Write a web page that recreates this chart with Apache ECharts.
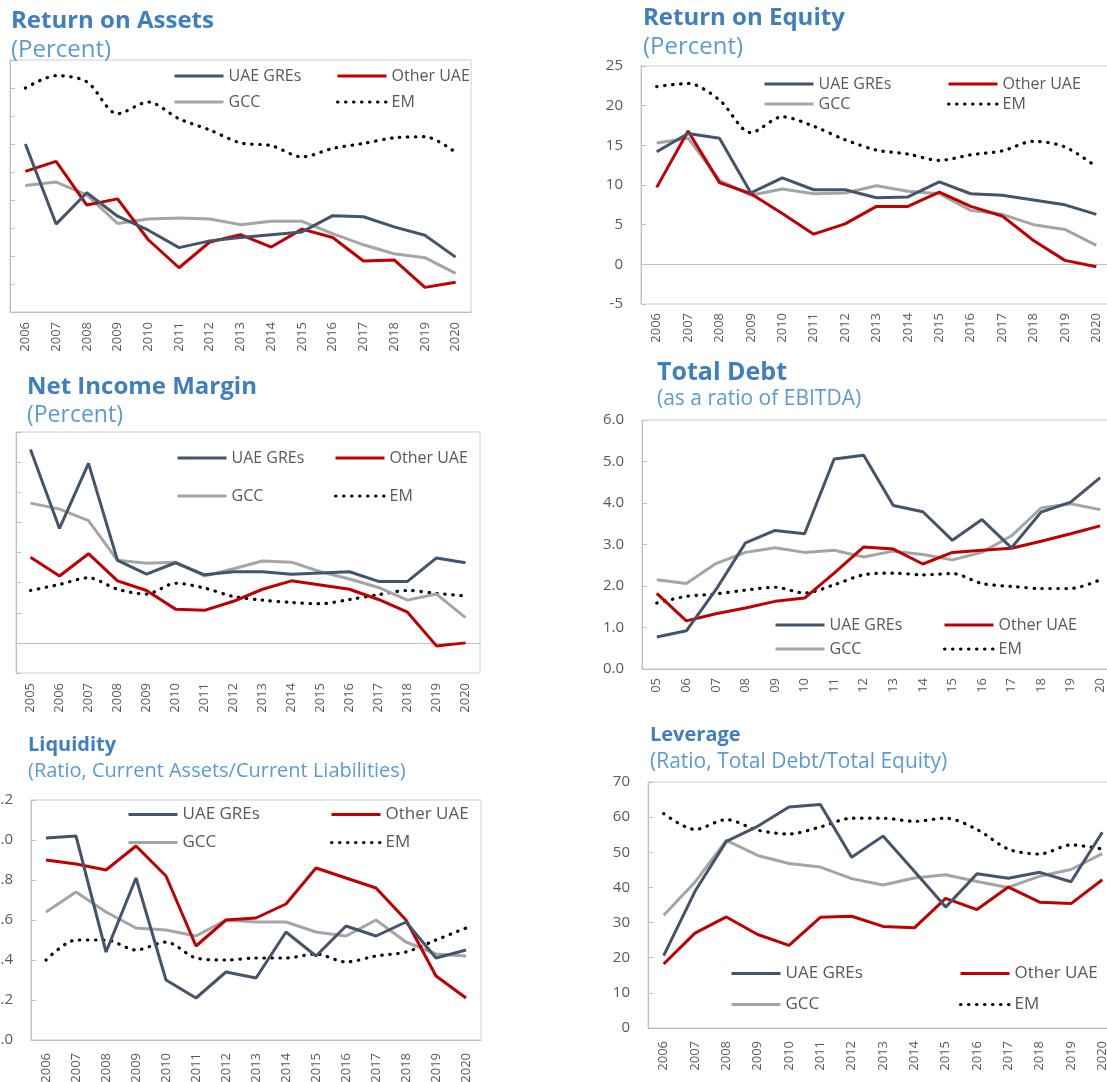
<!DOCTYPE html>
<html>
<head>
<meta charset="utf-8">
<script src="https://cdn.jsdelivr.net/npm/echarts@6/dist/echarts.min.js"></script>
<style>
html, body { margin: 0; padding: 0; background: #fff; }
#main { width: 1107px; height: 1082px; }
</style>
</head>
<body>
<div id="main"></div>
<script>
// categories
var years05 = ['2005','2006','2007','2008','2009','2010','2011','2012','2013','2014','2015','2016','2017','2018','2019','2020'];
var years06 = ['2006','2007','2008','2009','2010','2011','2012','2013','2014','2015','2016','2017','2018','2019','2020'];

// Return on Assets (percent)
var roaGre   = [3.00, 1.57, 2.13, 1.71, 1.46, 1.15, 1.27, 1.33, 1.38, 1.43, 1.72, 1.70, 1.52, 1.37, 0.98];
var roaOther = [2.51, 2.69, 1.91, 2.02, 1.29, 0.79, 1.25, 1.38, 1.16, 1.48, 1.33, 0.91, 0.93, 0.44, 0.53];
var roaGcc   = [2.26, 2.32, 2.09, 1.58, 1.66, 1.68, 1.66, 1.56, 1.62, 1.62, 1.40, 1.20, 1.04, 0.97, 0.69];
var roaEm    = [4.00, 4.22, 4.11, 3.54, 3.75, 3.45, 3.25, 3.02, 2.97, 2.77, 2.92, 3.01, 3.11, 3.13, 2.85];

// Return on Equity (percent)
var roeGre   = [14.2, 16.5, 15.9, 9.0, 10.9, 9.4, 9.4, 8.4, 8.5, 10.4, 8.9, 8.7, 8.1, 7.5, 6.3];
var roeOther = [9.7, 16.8, 10.3, 8.9, 6.4, 3.8, 5.1, 7.3, 7.3, 9.1, 7.3, 6.1, 3.0, 0.5, -0.3];
var roeGcc   = [15.3, 15.9, 10.6, 8.7, 9.5, 8.9, 9.0, 9.9, 9.2, 8.9, 6.8, 6.3, 5.0, 4.4, 2.4];
var roeEm    = [22.4, 22.8, 20.7, 16.6, 18.6, 17.4, 15.7, 14.4, 13.9, 13.1, 13.8, 14.3, 15.5, 14.8, 12.3];

// Net Income Margin (percent)
var nimGre   = [32.1, 19.0, 29.8, 13.7, 11.4, 13.3, 11.3, 11.8, 11.8, 11.4, 11.6, 11.8, 10.2, 10.2, 14.1, 13.3];
var nimOther = [14.2, 11.1, 14.8, 10.3, 8.7, 5.6, 5.4, 6.9, 8.9, 10.3, 9.6, 8.9, 7.2, 5.1, -0.5, 0.0];
var nimGcc   = [23.2, 22.2, 20.3, 13.7, 13.2, 13.4, 11.1, 12.3, 13.6, 13.4, 11.8, 10.6, 9.2, 7.1, 8.1, 4.2];
var nimEm    = [8.7, 9.7, 10.8, 8.9, 8.1, 9.9, 9.1, 7.7, 7.1, 6.7, 6.5, 7.2, 8.0, 8.7, 8.2, 7.8];

// Total Debt (ratio of EBITDA)
var tdGre   = [0.77, 0.92, 1.91, 3.04, 3.34, 3.26, 5.06, 5.15, 3.94, 3.79, 3.10, 3.60, 2.92, 3.78, 4.02, 4.61];
var tdOther = [1.82, 1.16, 1.33, 1.47, 1.63, 1.71, 2.31, 2.94, 2.89, 2.53, 2.81, 2.86, 2.91, 3.08, 3.26, 3.45];
var tdGcc   = [2.15, 2.06, 2.54, 2.81, 2.92, 2.81, 2.86, 2.70, 2.84, 2.76, 2.63, 2.81, 3.21, 3.88, 3.98, 3.84];
var tdEm    = [1.59, 1.75, 1.81, 1.90, 1.97, 1.83, 2.03, 2.27, 2.31, 2.27, 2.30, 2.06, 1.99, 1.94, 1.94, 2.15];

// Liquidity (current assets / current liabilities)
var liqGre   = [1.01, 1.02, 0.44, 0.81, 0.30, 0.21, 0.34, 0.31, 0.54, 0.42, 0.57, 0.52, 0.59, 0.41, 0.45];
var liqOther = [0.90, 0.88, 0.85, 0.97, 0.82, 0.47, 0.60, 0.61, 0.68, 0.86, 0.81, 0.76, 0.60, 0.32, 0.21];
var liqGcc   = [0.64, 0.74, 0.64, 0.56, 0.55, 0.52, 0.60, 0.59, 0.59, 0.54, 0.52, 0.60, 0.49, 0.43, 0.42];
var liqEm    = [0.40, 0.50, 0.50, 0.45, 0.49, 0.41, 0.40, 0.41, 0.41, 0.43, 0.39, 0.42, 0.44, 0.50, 0.56];

// Leverage (total debt / total equity)
var levGre   = [20.6, 38.9, 53.1, 57.4, 62.9, 63.6, 48.6, 54.6, 44.6, 34.4, 43.9, 42.6, 44.3, 41.6, 55.7];
var levOther = [18.2, 27.0, 31.6, 26.6, 23.5, 31.5, 31.8, 28.9, 28.5, 36.9, 33.7, 40.1, 35.8, 35.4, 42.2];
var levGcc   = [32.1, 41.5, 53.4, 49.1, 46.8, 45.8, 42.5, 40.7, 42.7, 43.6, 41.7, 40.0, 43.2, 45.1, 49.6];
var levEm    = [61.0, 56.5, 59.3, 56.3, 55.2, 57.2, 59.7, 59.7, 58.8, 59.7, 56.5, 50.9, 49.5, 52.1, 50.9];

var names = ['UAE GREs', 'Other UAE', 'GCC', 'EM'];
var font = 'Open Sans';
var axisGray = '#BFBFBF';
var labelGray = '#595959';

var lineStyles = [
	{ color: '#44546A', width: 3 },
	{ color: '#C00000', width: 3 },
	{ color: '#A5A5A5', width: 3 },
	{ color: '#000000', width: 3.2, type: [0.5, 7.5], cap: 'round' }
];

var option = {
	animation: false,
	backgroundColor: '#fff',
	title: [], legend: [], grid: [], xAxis: [], yAxis: [], series: []
};

function addPanel(i, p) {
	option.title.push({
		text: p.title, subtext: p.sub, padding: 0,
		left: p.tLeft, top: p.tTop, itemGap: p.tGap,
		textStyle: { fontFamily: font, fontWeight: 'bold', fontSize: p.tSize, color: '#3F7EBF' },
		subtextStyle: { fontFamily: font, fontSize: p.sSize, color: '#5B9BD5' }
	});
	[[names[0], names[2]], [names[1], names[3]]].forEach(function (col, c) {
		option.legend.push({
			data: col, orient: 'vertical', selectedMode: false, padding: 0,
			left: p.lgLeft[c], top: p.lgTop, itemGap: p.lgGap,
			itemWidth: 49, itemHeight: 14,
			itemStyle: { opacity: 0 },
			lineStyle: { width: 3 },
			textStyle: { fontFamily: font, fontSize: p.lgSize, color: labelGray }
		});
	});
	option.grid.push({
		left: p.grid[0], top: p.grid[1], width: p.grid[2], height: p.grid[3],
		outerBoundsMode: 'none',
		show: true, borderColor: '#D0D0D0', borderWidth: 1
	});
	option.xAxis.push({
		type: 'category', gridIndex: i, data: p.cats,
		axisLine: { onZero: true, lineStyle: { color: axisGray, width: 1 } },
		axisTick: { inside: true, length: 5, lineStyle: { color: axisGray } },
		axisLabel: {
			rotate: 90, interval: 0, margin: p.xMargin, fontFamily: font, fontSize: 13, color: labelGray,
			formatter: p.xFmt
		}
	});
	option.yAxis.push({
		type: 'value', gridIndex: i, min: p.y[0], max: p.y[1], interval: p.y[2],
		splitLine: { show: false },
		axisLine: { show: true, lineStyle: { color: axisGray } },
		axisTick: { show: true, inside: true, length: 5, lineStyle: { color: axisGray } },
		axisLabel: {
			show: p.yLabels, margin: 18, fontFamily: font, fontSize: 15, color: labelGray,
			formatter: p.yFmt
		}
	});
	p.data.forEach(function (d, k) {
		option.series.push({
			name: names[k], type: 'line', xAxisIndex: i, yAxisIndex: i,
			data: d, symbol: 'none', smooth: k === 3 ? 0.3 : false,
			lineStyle: lineStyles[k], z: k === 3 ? 1 : 4 - k
		});
	});
}

function oneDec(v) { return v.toFixed(1); }

// Return on Assets
addPanel(0, {
	title: 'Return on Assets', sub: '(Percent)', tLeft: 11, tTop: 9, tGap: 5, tSize: 24, sSize: 24,
	lgLeft: [173, 336], lgTop: 68, lgGap: 10, lgSize: 16,
	grid: [10, 60, 461, 252], cats: years06, xMargin: 10,
	y: [0, 4.5, 0.5], yLabels: false,
	data: [roaGre, roaOther, roaGcc, roaEm]
});

// Return on Equity
addPanel(1, {
	title: 'Return on Equity', sub: '(Percent)', tLeft: 643, tTop: 6, tGap: 5, tSize: 24, sSize: 24,
	lgLeft: [763, 947], lgTop: 76, lgGap: 4, lgSize: 16,
	grid: [641, 66, 471, 238], cats: years06, xMargin: 9,
	y: [-5, 25, 5], yLabels: true,
	data: [roeGre, roeOther, roeGcc, roeEm]
});

// Net Income Margin
addPanel(2, {
	title: 'Net Income Margin', sub: '(Percent)', tLeft: 27, tTop: 375, tGap: 5, tSize: 24, sSize: 23,
	lgLeft: [176, 334], lgTop: 450, lgGap: 22, lgSize: 16,
	grid: [16, 432, 464, 241], cats: years05, xMargin: 10,
	y: [-5, 35, 5], yLabels: false,
	data: [nimGre, nimOther, nimGcc, nimEm]
});

// Total Debt
addPanel(3, {
	title: 'Total Debt', sub: '(as a ratio of EBITDA)', tLeft: 657, tTop: 360, tGap: 4, tSize: 25, sSize: 21,
	lgLeft: [774, 943], lgTop: 617, lgGap: 8, lgSize: 16,
	grid: [642, 420, 473, 249], cats: years05, xMargin: 9,
	xFmt: function (v) { return v.slice(2); },
	y: [0, 6, 1], yLabels: true, yFmt: oneDec,
	data: [tdGre, tdOther, tdGcc, tdEm]
});

// Liquidity
addPanel(4, {
	title: 'Liquidity', sub: '(Ratio, Current Assets/Current Liabilities)', tLeft: 28, tTop: 735, tGap: 6, tSize: 20, sSize: 20,
	lgLeft: [127, 330], lgTop: 806, lgGap: 11, lgSize: 17,
	grid: [31, 800, 450, 240], cats: years06, xMargin: 13,
	y: [0, 1.2, 0.2], yLabels: true, yFmt: oneDec,
	data: [liqGre, liqOther, liqGcc, liqEm]
});

// Leverage
addPanel(5, {
	title: 'Leverage', sub: '(Ratio, Total Debt/Total Equity)', tLeft: 650, tTop: 725, tGap: 7, tSize: 20, sSize: 21,
	lgLeft: [730, 959], lgTop: 965, lgGap: 14, lgSize: 17,
	grid: [648, 782, 470, 246], cats: years06, xMargin: 13,
	y: [0, 70, 10], yLabels: true,
	data: [levGre, levOther, levGcc, levEm]
});

var myChart = echarts.init(document.getElementById('main'));
myChart.setOption(option);
</script>
</body>
</html>
